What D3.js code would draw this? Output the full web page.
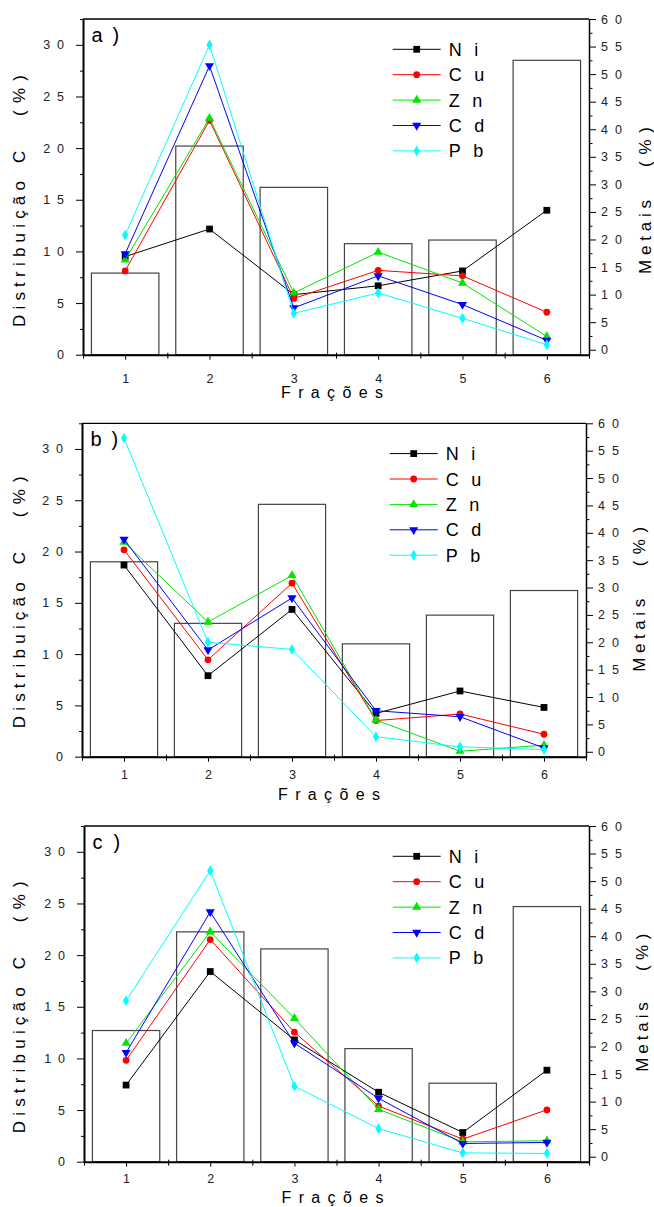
<!DOCTYPE html>
<html>
<head>
<meta charset="utf-8">
<script src="https://cdn.jsdelivr.net/npm/d3@7"></script>
<style>
  body { margin: 0; background: #fff; }
  svg { font-family: "Liberation Sans", Arial, sans-serif; }
  .axis path, .axis line { stroke: #000; }
  .axis text { font-size: 12.5px; fill: #222; white-space: pre; }
</style>
</head>
<body>
<svg id="chart" width="654" height="1207"></svg>
<script>
// fractions on x axis
var fracoes = [1, 2, 3, 4, 5, 6];

// carbon distribution bars (left axis), one array per panel
var barsA = [7.9, 20.2, 16.2, 10.75, 11.1, 28.5];
var barsB = [19.0, 13.0, 24.6, 11.0, 13.8, 16.2];
var barsC = [12.7, 22.25, 20.6, 10.95, 7.6, 24.7];

// metals (right axis) panel a
var niA = [16.9, 21.9, 10.0, 11.6, 14.3, 25.3];
var cuA = [14.3, 41.6, 9.3, 14.4, 13.4, 6.8];
var znA = [16.3, 42.0, 10.3, 17.7, 12.1, 2.4];
var cdA = [17.4, 51.5, 7.6, 13.4, 8.2, 1.7];
var pbA = [20.8, 55.3, 6.6, 10.3, 5.7, 0.9];

// metals panel b
var niB = [34.1, 13.9, 26.0, 7.0, 11.1, 8.1];
var cuB = [36.9, 16.8, 30.8, 5.7, 6.9, 3.2];
var znB = [38.3, 23.7, 32.2, 5.8, 0.1, 1.2];
var cdB = [38.8, 18.6, 28.1, 7.5, 6.4, 0.7];
var pbB = [57.3, 20.0, 18.7, 2.75, 0.9, 0.4];

// metals panel c
var niC = [13.0, 33.6, 21.2, 11.7, 4.4, 15.7];
var cuC = [17.5, 39.4, 22.6, 9.2, 3.2, 8.5];
var znC = [20.6, 40.8, 25.1, 8.6, 2.7, 2.9];
var cdC = [18.9, 44.4, 20.6, 10.6, 2.4, 2.6];
var pbC = [28.3, 51.9, 12.8, 5.1, 0.7, 0.6];

var metais = ["Ni", "Cu", "Zn", "Cd", "Pb"];
var cores  = ["#000000", "#ff0000", "#00e600", "#0000ff", "#00ffff"];
var leftTicks  = [0, 5, 10, 15, 20, 25, 30];
var rightTicks = [0, 5, 10, 15, 20, 25, 30, 35, 40, 45, 50, 55, 60];

// marker shapes, same order as metais
function marker(i) {
    var types = [d3.symbolSquare, d3.symbolCircle, d3.symbolTriangle, d3.symbolTriangle, d3.symbolDiamond];
    var sizes = [46, 36, 36, 36, 34];
    return d3.symbol().type(types[i]).size(sizes[i])();
}

var svg = d3.select("#chart");

// yL0 / yR0 = screen y where the rotated titles start (bottom end)
var panels = [
  { label: "a", bars: barsA, series: [niA, cuA, znA, cdA, pbA],
    left: 83, right: 589, top: 19, bottom: 354.7, xPad: 14,
    yL0: 327, yR0: 274, xR: 650.7, kR: 1, xTitleX: 281, xTitleY: 398 },
  { label: "b", bars: barsB, series: [niB, cuB, znB, cdB, pbB],
    left: 82, right: 586, top: 423.3, bottom: 756.7, xPad: 8,
    yL0: 728.3, yR0: 671.7, xR: 645, kR: 0.985, xTitleX: 278, xTitleY: 800 },
  { label: "c", bars: barsC, series: [niC, cuC, znC, cdC, pbC],
    left: 84, right: 589, top: 826, bottom: 1161.7, xPad: 7.5,
    yL0: 1133.3, yR0: 1071.7, xR: 648, kR: 0.94, xTitleX: 281.5, xTitleY: 1202.5 }
];

function spaced(d) { return String(d).split("").join("  "); }

// letter-spaced text: one <text> per glyph so the word spans len px
function spread(g, str, x0, y, len, size) {
    var probe = g.append("text").style("font-size", size + "px").style("white-space", "pre");
    var chars = str.split("");
    var widths = chars.map(function(c) {
        probe.text(c);
        return probe.node().getComputedTextLength();
    });
    probe.remove();
    var gap = chars.length > 1 ? (len - d3.sum(widths)) / (chars.length - 1) : 0;
    var cx = x0;
    chars.forEach(function(c, i) {
        if (c != " ") {
            g.append("text")
              .attr("x", cx).attr("y", y)
              .style("font-size", size + "px")
              .text(c);
        }
        cx += widths[i] + gap;
    });
}

function drawPanel(p) {
    var x  = d3.scaleLinear().domain([0.5, 6.5]).range([p.left, p.right]);
    var yL = d3.scaleLinear().domain([0, 32.5]).range([p.bottom, p.top]);
    var yR = d3.scaleLinear().domain([-0.9, 60]).range([p.bottom, p.top]);

    var g = svg.append("g");

    // bars
    g.selectAll("rect.bar")
      .data(p.bars)
      .enter().append("rect")
      .attr("class", "bar")
      .attr("x", function(d, i) { return x(fracoes[i] - 0.4); })
      .attr("width", function(d, i) { return x(fracoes[i] + 0.4) - x(fracoes[i] - 0.4); })
      .attr("y", function(d) { return yL(d); })
      .attr("height", function(d) { return yL(0) - yL(d); })
      .attr("fill", "none")
      .attr("stroke", "#444")
      .attr("stroke-width", 1.2);

    // metal lines
    var line = d3.line()
      .x(function(d, i) { return x(fracoes[i]); })
      .y(function(d) { return yR(d); });

    p.series.forEach(function(s, k) {
        g.append("path")
          .datum(s)
          .attr("d", line)
          .attr("fill", "none")
          .attr("stroke", cores[k])
          .attr("stroke-width", 1);
        g.selectAll("path.m" + k)
          .data(s)
          .enter().append("path")
          .attr("class", "m" + k)
          .attr("d", marker(k))
          .attr("fill", cores[k])
          .attr("transform", function(d, i) {
              return "translate(" + x(fracoes[i]) + "," + yR(d) + ")" + (k == 3 ? " rotate(180)" : "");
          });
    });

    // frame top
    g.append("line")
      .attr("x1", p.left).attr("x2", p.right)
      .attr("y1", p.top).attr("y2", p.top)
      .attr("stroke", "#000").attr("stroke-width", 1.3);

    // left axis
    g.append("g").attr("class", "axis")
      .attr("transform", "translate(" + p.left + ",0)")
      .call(d3.axisLeft(yL).tickValues(leftTicks).tickSize(7).tickSizeOuter(0)
            .tickPadding(12).tickFormat(spaced))
      .call(function(a) { a.select(".domain").attr("stroke-width", 2); });
    g.append("g").attr("class", "axis")
      .attr("transform", "translate(" + p.left + ",0)")
      .call(d3.axisLeft(yL).tickValues([2.5, 7.5, 12.5, 17.5, 22.5, 27.5, 32.5]).tickSize(3)
            .tickSizeOuter(0).tickFormat(""))
      .select(".domain").remove();

    // right axis
    g.append("g").attr("class", "axis")
      .attr("transform", "translate(" + p.right + ",0)")
      .call(d3.axisRight(yR).tickValues(rightTicks).tickSize(7).tickSizeOuter(0)
            .tickPadding(5).tickFormat(spaced))
      .call(function(a) { a.select(".domain").attr("stroke-width", 1.5); });
    g.append("g").attr("class", "axis")
      .attr("transform", "translate(" + p.right + ",0)")
      .call(d3.axisRight(yR).tickValues([2.5, 7.5, 12.5, 17.5, 22.5, 27.5, 32.5, 37.5, 42.5, 47.5, 52.5, 57.5])
            .tickSize(3.5).tickSizeOuter(0).tickFormat(""))
      .select(".domain").remove();

    // bottom axis
    g.append("g").attr("class", "axis")
      .attr("transform", "translate(0," + p.bottom + ")")
      .call(d3.axisBottom(x).tickValues(fracoes).tickSize(5).tickSizeOuter(0)
            .tickPadding(p.xPad).tickFormat(d3.format("d")))
      .call(function(a) { a.select(".domain").attr("stroke-width", 2); });
    g.append("g").attr("class", "axis")
      .attr("transform", "translate(0," + (p.bottom - 2) + ")")
      .call(d3.axisBottom(x).tickValues([0.5, 1.5, 2.5, 3.5, 4.5, 5.5, 6.5]).tickSize(6)
            .tickSizeOuter(0).tickFormat(""))
      .select(".domain").remove();

    // panel label "a )"
    g.append("text")
      .attr("x", p.left + 8.5).attr("y", p.top + 23)
      .style("font-size", "20px")
      .text(p.label);
    g.append("text")
      .attr("x", p.left + 29.5).attr("y", p.top + 23)
      .style("font-size", "20px")
      .text(")");

    // legend
    var lx = p.right - 196.3;
    metais.forEach(function(m, k) {
        var ly = p.top + 30.3 + k * 25.4;
        g.append("line")
          .attr("x1", lx).attr("x2", lx + 48)
          .attr("y1", ly).attr("y2", ly)
          .attr("stroke", cores[k]).attr("stroke-width", 1);
        g.append("path")
          .attr("d", marker(k))
          .attr("fill", cores[k])
          .attr("transform", "translate(" + (lx + 24) + "," + ly + ")" + (k == 3 ? " rotate(180)" : ""));
        var t1 = g.append("text")
          .attr("x", lx + 56).attr("y", ly + 6.5)
          .style("font-size", "18px")
          .text(m.charAt(0));
        var w = t1.node().getComputedTextLength();
        g.append("text")
          .attr("x", lx + 56 + w + 12.5).attr("y", ly + 6.5)
          .style("font-size", "18px")
          .text(m.charAt(1));
    });

    // left title, rotated, letter-spaced like the original
    var tl = svg.append("g")
      .attr("transform", "translate(25," + p.yL0 + ") rotate(-90)");
    spread(tl, "Distribuição", 0, 0, 146, 17);
    spread(tl, "C", 164, 0, 12, 17);
    spread(tl, "( % )", 211, 0, 41, 17);

    // right title
    var tr = svg.append("g")
      .attr("transform", "translate(" + p.xR + "," + p.yR0 + ") rotate(-90)");
    spread(tr, "Metais", 0, 0, 74 * p.kR, 17);
    spread(tr, "( % )", 107 * p.kR, 0, 40 * p.kR, 17);

    // x title
    spread(svg, "Frações", p.xTitleX, p.xTitleY, 102, 16);
}

panels.forEach(drawPanel);
</script>
</body>
</html>
